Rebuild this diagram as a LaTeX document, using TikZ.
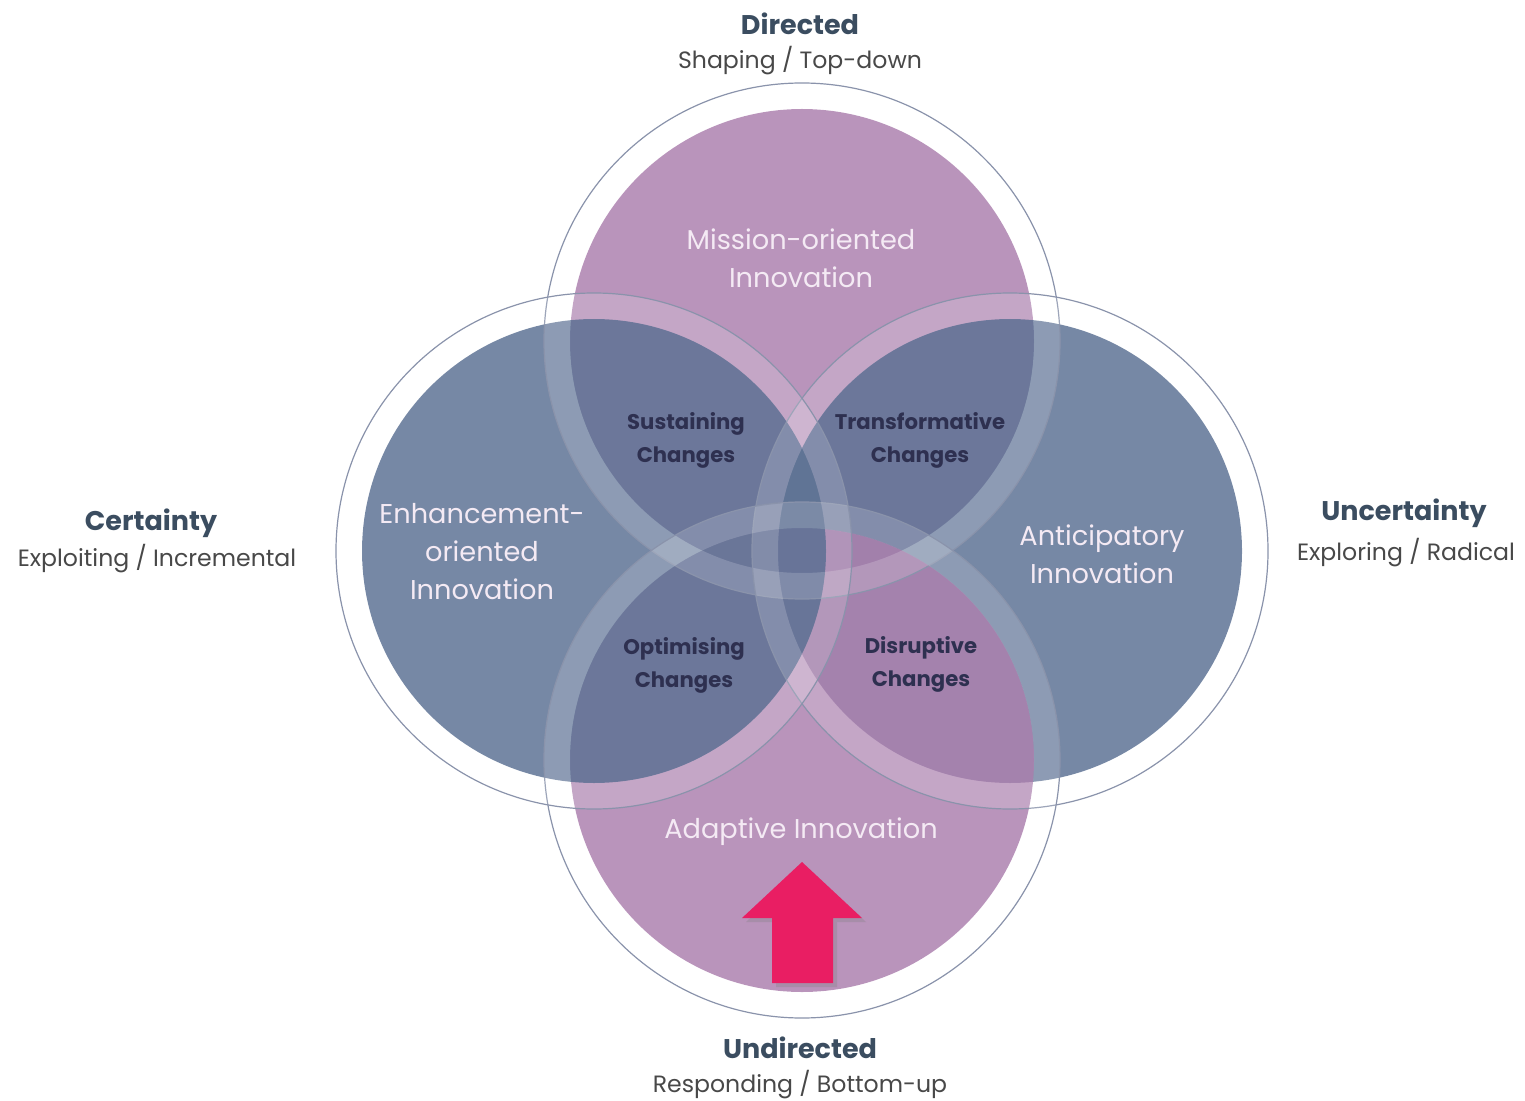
\documentclass[tikz,border=0pt]{standalone}
\usepackage{fontspec}
\setmainfont{Poppins}
\usepackage{xcolor}
\usepackage{tikz}
\usetikzlibrary{positioning, shadows}

\definecolor{mauve}{HTML}{AD81AF}
\definecolor{slate}{HTML}{5E7395}
\definecolor{ringline}{HTML}{8A93AB}
\definecolor{headtext}{HTML}{3B4D60}
\definecolor{subtext}{HTML}{484848}
\definecolor{changetext}{HTML}{2E3050}
\definecolor{innotext}{HTML}{F4EAF4}
\definecolor{arrowpink}{HTML}{E91E63}

\begin{document}
\begin{tikzpicture}[
    x=0.5pt, y=-0.5pt,
    disc/.style={circle, minimum size=232pt, inner sep=0pt, fill opacity=0.85},
    pinkdisc/.style={disc, fill=mauve},
    bluedisc/.style={disc, fill=slate},
    halo/.style={circle, minimum size=245pt, inner sep=0pt, draw=white, draw opacity=0.17, line width=13pt},
    ring/.style={circle, minimum size=258pt, inner sep=0pt, draw=ringline, line width=0.6pt},
    headlabel/.style={font=\bfseries\fontsize{13.5}{16}\selectfont, text=headtext},
    sublabel/.style={font=\fontsize{11.8}{14}\selectfont, text=subtext},
    innolabel/.style={align=center, font=\fontsize{13.6}{19}\selectfont, text=innotext},
    changelabel/.style={align=center, font=\bfseries\fontsize{10.6}{16.5}\selectfont, text=changetext}
]
\useasboundingbox (0,0) rectangle (1525,1101);

% Discs
\node[pinkdisc] (mission) at (802,341) {};
\node[bluedisc] (anticip) at (1010,551) {};
\node[pinkdisc] (adaptive) at (802,760) {};
\node[bluedisc] (enhance) at (594,551) {};

% Light bands and outer rings
\foreach \c in {mission, anticip, adaptive, enhance} {
    \node[halo] at (\c) {};
    \node[ring] (\c ring) at (\c) {};
}

% Innovation labels
\node[innolabel] (missiontext) at (801,258) {Mission-oriented\\Innovation};
\node[innolabel] (enhancetext) at (482,552) {Enhancement-\\oriented\\Innovation};
\node[innolabel] (anticiptext) at (1102,554) {Anticipatory\\Innovation};
\node[innolabel] (adaptivetext) at (801,832) {Adaptive Innovation};

% Changes in the overlaps
\node[changelabel] (sustaining) at (686,440) {Sustaining\\Changes};
\node[changelabel] (transform) at (920,440) {Transformative\\Changes};
\node[changelabel] (optimising) at (684,665) {Optimising\\Changes};
\node[changelabel] (disruptive) at (921,664) {Disruptive\\Changes};

% Axis labels
\node[headlabel] (directed) at (800,24) {Directed};
\node[sublabel] (shaping) at (800,61) {Shaping / Top-down};
\node[headlabel] (undirected) at (800,1048) {Undirected};
\node[sublabel] (responding) at (800,1085) {Responding / Bottom-up};
\node[headlabel] (certainty) at (151,523) {Certainty};
\node[sublabel] (exploiting) at (157,559) {Exploiting / Incremental};
\node[headlabel] (uncertainty) at (1404,513) {Uncertainty};
\node[sublabel] (exploring) at (1406,553) {Exploring / Radical};

% Arrow into adaptive innovation
\fill[arrowpink, drop shadow={opacity=0.3, shadow xshift=2pt, shadow yshift=-2pt}]
    (772,983) -- (772,918) -- (742,918) -- (802,862) -- (862,918) -- (833,918) -- (833,983) -- cycle;

\end{tikzpicture}
\end{document}
